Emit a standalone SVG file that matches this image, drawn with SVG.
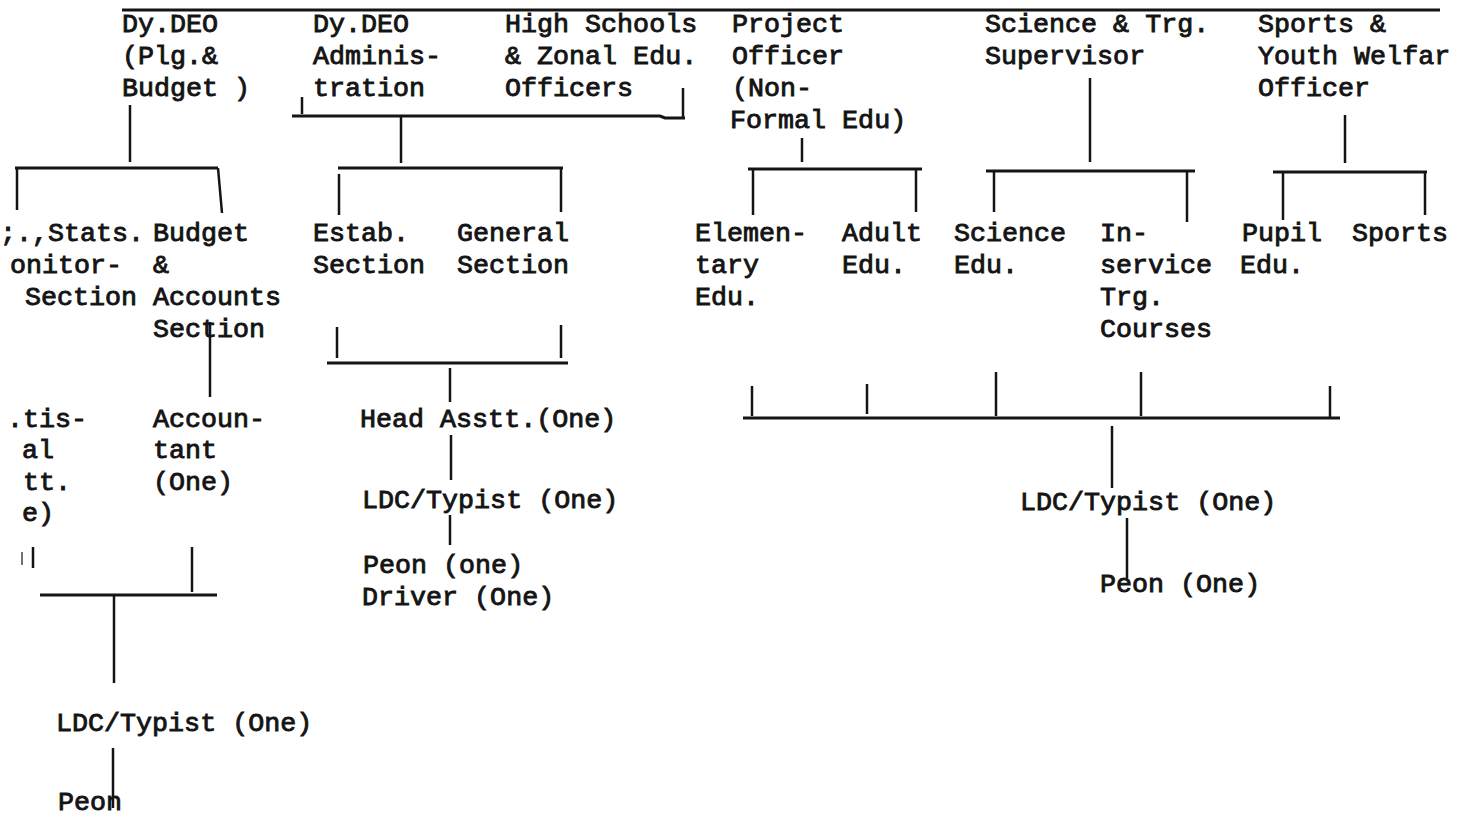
<svg xmlns="http://www.w3.org/2000/svg" width="1473" height="816" viewBox="0 0 1473 816">
<style>
text{font-family:"Liberation Mono","Courier New",monospace;font-size:26.7px;fill:#141414;stroke:#141414;stroke-width:0.9px}
.c line,.c polyline{stroke:#141414;stroke-width:3;fill:none;stroke-linecap:butt}
.c .t{stroke-width:2.5}
</style>
<rect width="1473" height="816" fill="#ffffff"/>
<g class="c" id="connectors">
<line x1="122" y1="10" x2="1440" y2="10"/>
<line class="t" x1="130" y1="105" x2="130" y2="162"/>
<line class="t" x1="302" y1="97" x2="302" y2="114"/>
<polyline points="292,116 660,116 665,118 685,118"/>
<line class="t" x1="683" y1="88" x2="683" y2="118"/>
<line class="t" x1="401" y1="116" x2="401" y2="163"/>
<line class="t" x1="802" y1="138" x2="802" y2="162"/>
<line class="t" x1="1090" y1="78" x2="1090" y2="162"/>
<line class="t" x1="1345" y1="115" x2="1345" y2="163"/>
<line x1="15" y1="168" x2="218" y2="168"/>
<line class="t" x1="17" y1="168" x2="17" y2="210"/>
<line class="t" x1="218" y1="168" x2="222" y2="213"/>
<line x1="338" y1="168" x2="563" y2="168"/>
<line class="t" x1="339" y1="174" x2="339" y2="215"/>
<line class="t" x1="561" y1="168" x2="561" y2="212"/>
<line x1="748" y1="169" x2="922" y2="169"/>
<line class="t" x1="753" y1="169" x2="753" y2="215"/>
<line class="t" x1="916" y1="169" x2="916" y2="212"/>
<line x1="986" y1="171" x2="1195" y2="171"/>
<line class="t" x1="994" y1="171" x2="994" y2="212"/>
<line class="t" x1="1187" y1="171" x2="1187" y2="222"/>
<line x1="1273" y1="172" x2="1427" y2="172"/>
<line class="t" x1="1283" y1="172" x2="1283" y2="220"/>
<line class="t" x1="1425" y1="172" x2="1425" y2="215"/>
<line class="t" x1="210" y1="322" x2="210" y2="397"/>
<line x1="22" y1="552" x2="22" y2="565" style="stroke-width:1.2"/>
<line class="t" x1="33" y1="547" x2="33" y2="568"/>
<line class="t" x1="192" y1="547" x2="192" y2="592"/>
<line x1="40" y1="595" x2="217" y2="595"/>
<line class="t" x1="114" y1="595" x2="114" y2="683"/>
<line class="t" x1="113" y1="748" x2="113" y2="808"/>
<line class="t" x1="337" y1="327" x2="337" y2="358"/>
<line class="t" x1="561" y1="325" x2="561" y2="358"/>
<line x1="327" y1="363" x2="568" y2="363"/>
<line class="t" x1="450" y1="368" x2="450" y2="402"/>
<line class="t" x1="451" y1="435" x2="451" y2="480"/>
<line class="t" x1="450" y1="515" x2="450" y2="545"/>
<line class="t" x1="752" y1="386" x2="752" y2="416"/>
<line class="t" x1="867" y1="384" x2="867" y2="414"/>
<line class="t" x1="996" y1="372" x2="996" y2="416"/>
<line class="t" x1="1141" y1="372" x2="1141" y2="416"/>
<line class="t" x1="1330" y1="386" x2="1330" y2="418"/>
<line x1="743" y1="418" x2="1340" y2="418"/>
<line class="t" x1="1112" y1="426" x2="1112" y2="488"/>
<line class="t" x1="1127" y1="518" x2="1127" y2="578"/>
</g>
<g id="dydeo-plg"><text x="122" y="32">Dy.DEO</text><text x="122" y="64">(Plg.&amp;</text><text x="122" y="96">Budget )</text></g>
<g id="dydeo-admin"><text x="313" y="32">Dy.DEO</text><text x="313" y="64">Adminis-</text><text x="313" y="96">tration</text></g>
<g id="high-schools"><text x="505" y="32">High Schools</text><text x="505" y="64">&amp; Zonal Edu.</text><text x="505" y="96">Officers</text></g>
<g id="project-officer"><text x="732" y="32">Project</text><text x="732" y="64">Officer</text><text x="732" y="96">(Non-</text><text x="730" y="128">Formal Edu)</text></g>
<g id="science-supervisor"><text x="985" y="32">Science &amp; Trg.</text><text x="985" y="64">Supervisor</text></g>
<g id="sports-officer"><text x="1258" y="32">Sports &amp;</text><text x="1258" y="64">Youth Welfar</text><text x="1258" y="96">Officer</text></g>
<g id="stats-section"><text x="0" y="241">;.,Stats.</text><text x="10" y="273">onitor-</text><text x="25" y="305">Section</text></g>
<g id="budget-section"><text x="153" y="241">Budget</text><text x="153" y="273">&amp;</text><text x="153" y="305">Accounts</text><text x="153" y="337">Section</text></g>
<g id="estab-section"><text x="313" y="241">Estab.</text><text x="313" y="273">Section</text></g>
<g id="general-section"><text x="457" y="241">General</text><text x="457" y="273">Section</text></g>
<g id="elementary-edu"><text x="695" y="241">Elemen-</text><text x="695" y="273">tary</text><text x="695" y="305">Edu.</text></g>
<g id="adult-edu"><text x="842" y="241">Adult</text><text x="842" y="273">Edu.</text></g>
<g id="science-edu"><text x="954" y="241">Science</text><text x="954" y="273">Edu.</text></g>
<g id="inservice"><text x="1100" y="241">In-</text><text x="1100" y="273">service</text><text x="1100" y="305">Trg.</text><text x="1100" y="337">Courses</text></g>
<g id="pupil-edu"><text x="1242" y="241">Pupil</text><text x="1240" y="273">Edu.</text></g>
<g id="sports"><text x="1352" y="241">Sports</text></g>
<g id="statistical-asstt"><text x="7" y="427">.tis-</text><text x="22" y="458">al</text><text x="23" y="490">tt.</text><text x="22" y="521">e)</text></g>
<g id="accountant"><text x="153" y="427">Accoun-</text><text x="153" y="458">tant</text><text x="153" y="490">(One)</text></g>
<g id="ldc-left"><text x="56" y="731">LDC/Typist (One)</text></g>
<g id="peon-left"><text x="58" y="810">Peon</text></g>
<g id="head-asstt"><text x="360" y="427">Head Asstt.(One)</text></g>
<g id="ldc-center"><text x="362" y="508">LDC/Typist (One)</text></g>
<g id="peon-driver"><text x="363" y="573">Peon (one)</text><text x="362" y="605">Driver (One)</text></g>
<g id="ldc-right"><text x="1020" y="510">LDC/Typist (One)</text></g>
<g id="peon-right"><text x="1100" y="592">Peon (One)</text></g>
</svg>
